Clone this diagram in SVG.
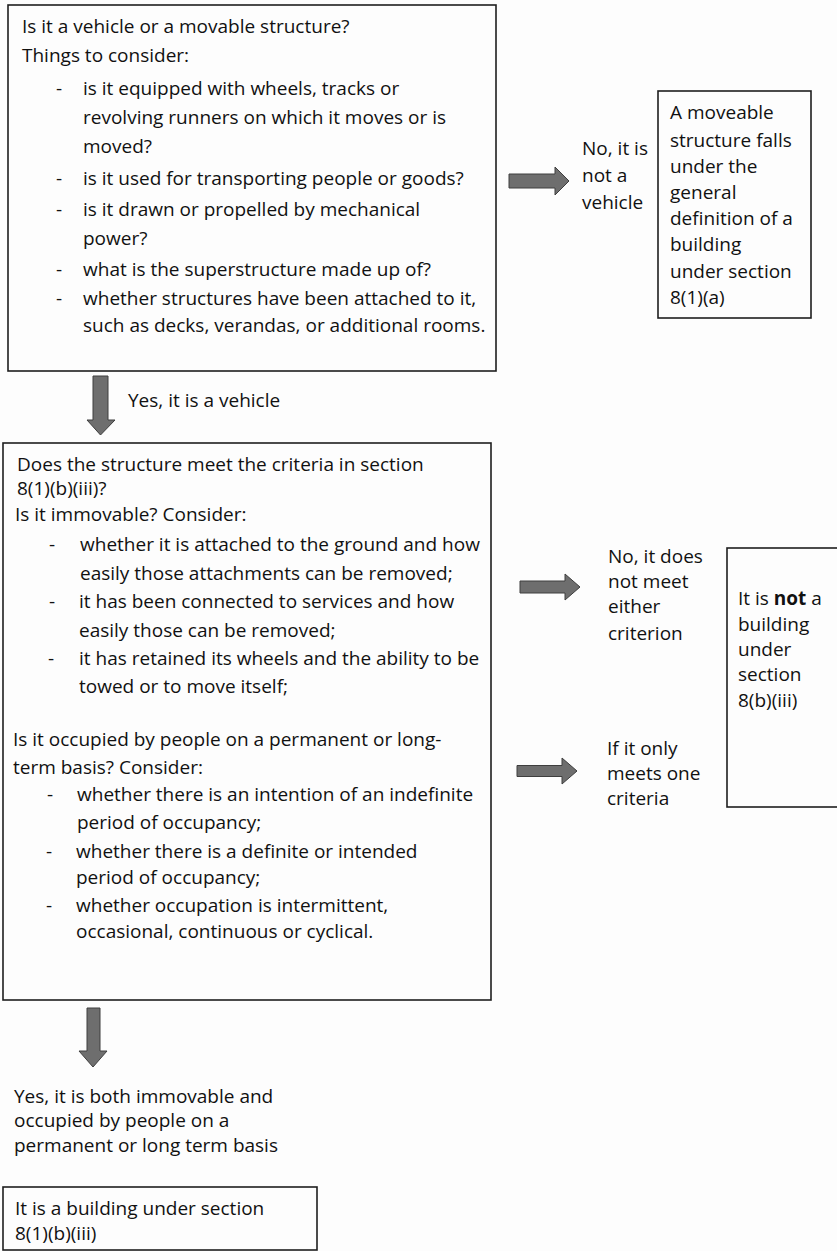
<svg xmlns="http://www.w3.org/2000/svg" width="837" height="1251" viewBox="0 0 837 1251">
<style>
.box{fill:none;stroke:#1e1e1e;stroke-width:1.6}
.t{font-family:"Open Sans","Liberation Sans",sans-serif;font-size:19px;fill:#111}
.arr{fill:#6e6e6e;stroke:#3e3e3e;stroke-width:1}
</style>
<rect width="837" height="1251" fill="#fdfdfd"/>
<g id="connectors">
<path class="arr" d="M509,174 H555 V167 L569,181 L555,195 V188 H509 Z"/>
<path class="arr" d="M93,376 H108 V420 H115 L100.5,435 L87,420 H93 Z"/>
<path class="arr" d="M520,581 H565 V574 L580,587 L565,600 V593 H520 Z"/>
<path class="arr" d="M517,765.5 H562 V758 L577,771 L562,784 V776.5 H517 Z"/>
<path class="arr" d="M87,1008 H100 V1051 H107 L93,1067 L79,1051 H87 Z"/>
<text class="t" x="582" y="155">No, it is</text>
<text class="t" x="582" y="182">not a</text>
<text class="t" x="582" y="209">vehicle</text>
<text class="t" x="128" y="407">Yes, it is a vehicle</text>
<text class="t" x="608" y="563">No, it does</text>
<text class="t" x="608" y="588">not meet</text>
<text class="t" x="608" y="613">either</text>
<text class="t" x="608" y="640">criterion</text>
<text class="t" x="607" y="755">If it only</text>
<text class="t" x="607" y="780">meets one</text>
<text class="t" x="607" y="805">criteria</text>
<text class="t" x="14" y="1103">Yes, it is both immovable and</text>
<text class="t" x="14" y="1127">occupied by people on a</text>
<text class="t" x="14" y="1152">permanent or long term basis</text>
</g>
<g id="node-vehicle">
<rect class="box" x="8" y="5" width="488" height="366"/>
<text class="t" x="22" y="33">Is it a vehicle or a movable structure?</text>
<text class="t" x="22" y="62">Things to consider:</text>
<text class="t" x="56" y="95">-</text><text class="t" x="83" y="95">is it equipped with wheels, tracks or</text>
<text class="t" x="83" y="124">revolving runners on which it moves or is</text>
<text class="t" x="83" y="153">moved?</text>
<text class="t" x="56" y="185">-</text><text class="t" x="83" y="185">is it used for transporting people or goods?</text>
<text class="t" x="56" y="216">-</text><text class="t" x="83" y="216">is it drawn or propelled by mechanical</text>
<text class="t" x="83" y="245">power?</text>
<text class="t" x="56" y="276">-</text><text class="t" x="83" y="276">what is the superstructure made up of?</text>
<text class="t" x="56" y="305">-</text><text class="t" x="83" y="305">whether structures have been attached to it,</text>
<text class="t" x="83" y="332">such as decks, verandas, or additional rooms.</text>
</g>
<g id="node-moveable">
<rect class="box" x="658" y="91" width="153" height="227"/>
<text class="t" x="670" y="119">A moveable</text>
<text class="t" x="670" y="147">structure falls</text>
<text class="t" x="670" y="173">under the</text>
<text class="t" x="670" y="199">general</text>
<text class="t" x="670" y="225">definition of a</text>
<text class="t" x="670" y="251">building</text>
<text class="t" x="670" y="278">under section</text>
<text class="t" x="670" y="304">8(1)(a)</text>
</g>
<g id="node-criteria">
<rect class="box" x="3" y="443" width="488" height="557"/>
<text class="t" x="17" y="471">Does the structure meet the criteria in section</text>
<text class="t" x="17" y="495">8(1)(b)(iii)?</text>
<text class="t" x="15" y="521">Is it immovable?  Consider:</text>
<text class="t" x="49" y="551">-</text><text class="t" x="80" y="551">whether it is attached to the ground and how</text>
<text class="t" x="80" y="580">easily those attachments can be removed;</text>
<text class="t" x="49" y="608">-</text><text class="t" x="79" y="608">it has been connected to services and how</text>
<text class="t" x="79" y="637">easily those can be removed;</text>
<text class="t" x="48" y="665">-</text><text class="t" x="79" y="665">it has retained its wheels and the ability to be</text>
<text class="t" x="79" y="693">towed  or to move itself;</text>
<text class="t" x="13" y="746">Is it occupied by people on a permanent or long-</text>
<text class="t" x="13" y="774">term basis?  Consider:</text>
<text class="t" x="47" y="801">-</text><text class="t" x="77" y="801">whether there is an intention of an indefinite</text>
<text class="t" x="77" y="829">period of occupancy;</text>
<text class="t" x="46" y="858">-</text><text class="t" x="76" y="858">whether  there is a definite or intended</text>
<text class="t" x="76" y="884">period of occupancy;</text>
<text class="t" x="46" y="912">-</text><text class="t" x="76" y="912">whether occupation is intermittent,</text>
<text class="t" x="76" y="938">occasional, continuous or cyclical.</text>
</g>
<g id="node-not-building">
<rect class="box" x="727" y="548" width="125" height="259"/>
<text class="t" x="738" y="605">It is <tspan font-weight="bold">not</tspan> a</text>
<text class="t" x="738" y="631">building</text>
<text class="t" x="738" y="656">under</text>
<text class="t" x="738" y="681">section</text>
<text class="t" x="738" y="707">8(b)(iii)</text>
</g>
<g id="node-building">
<rect class="box" x="3" y="1187" width="314" height="63"/>
<text class="t" x="15" y="1215">It is a building under section</text>
<text class="t" x="15" y="1240">8(1)(b)(iii)</text>
</g>
</svg>
